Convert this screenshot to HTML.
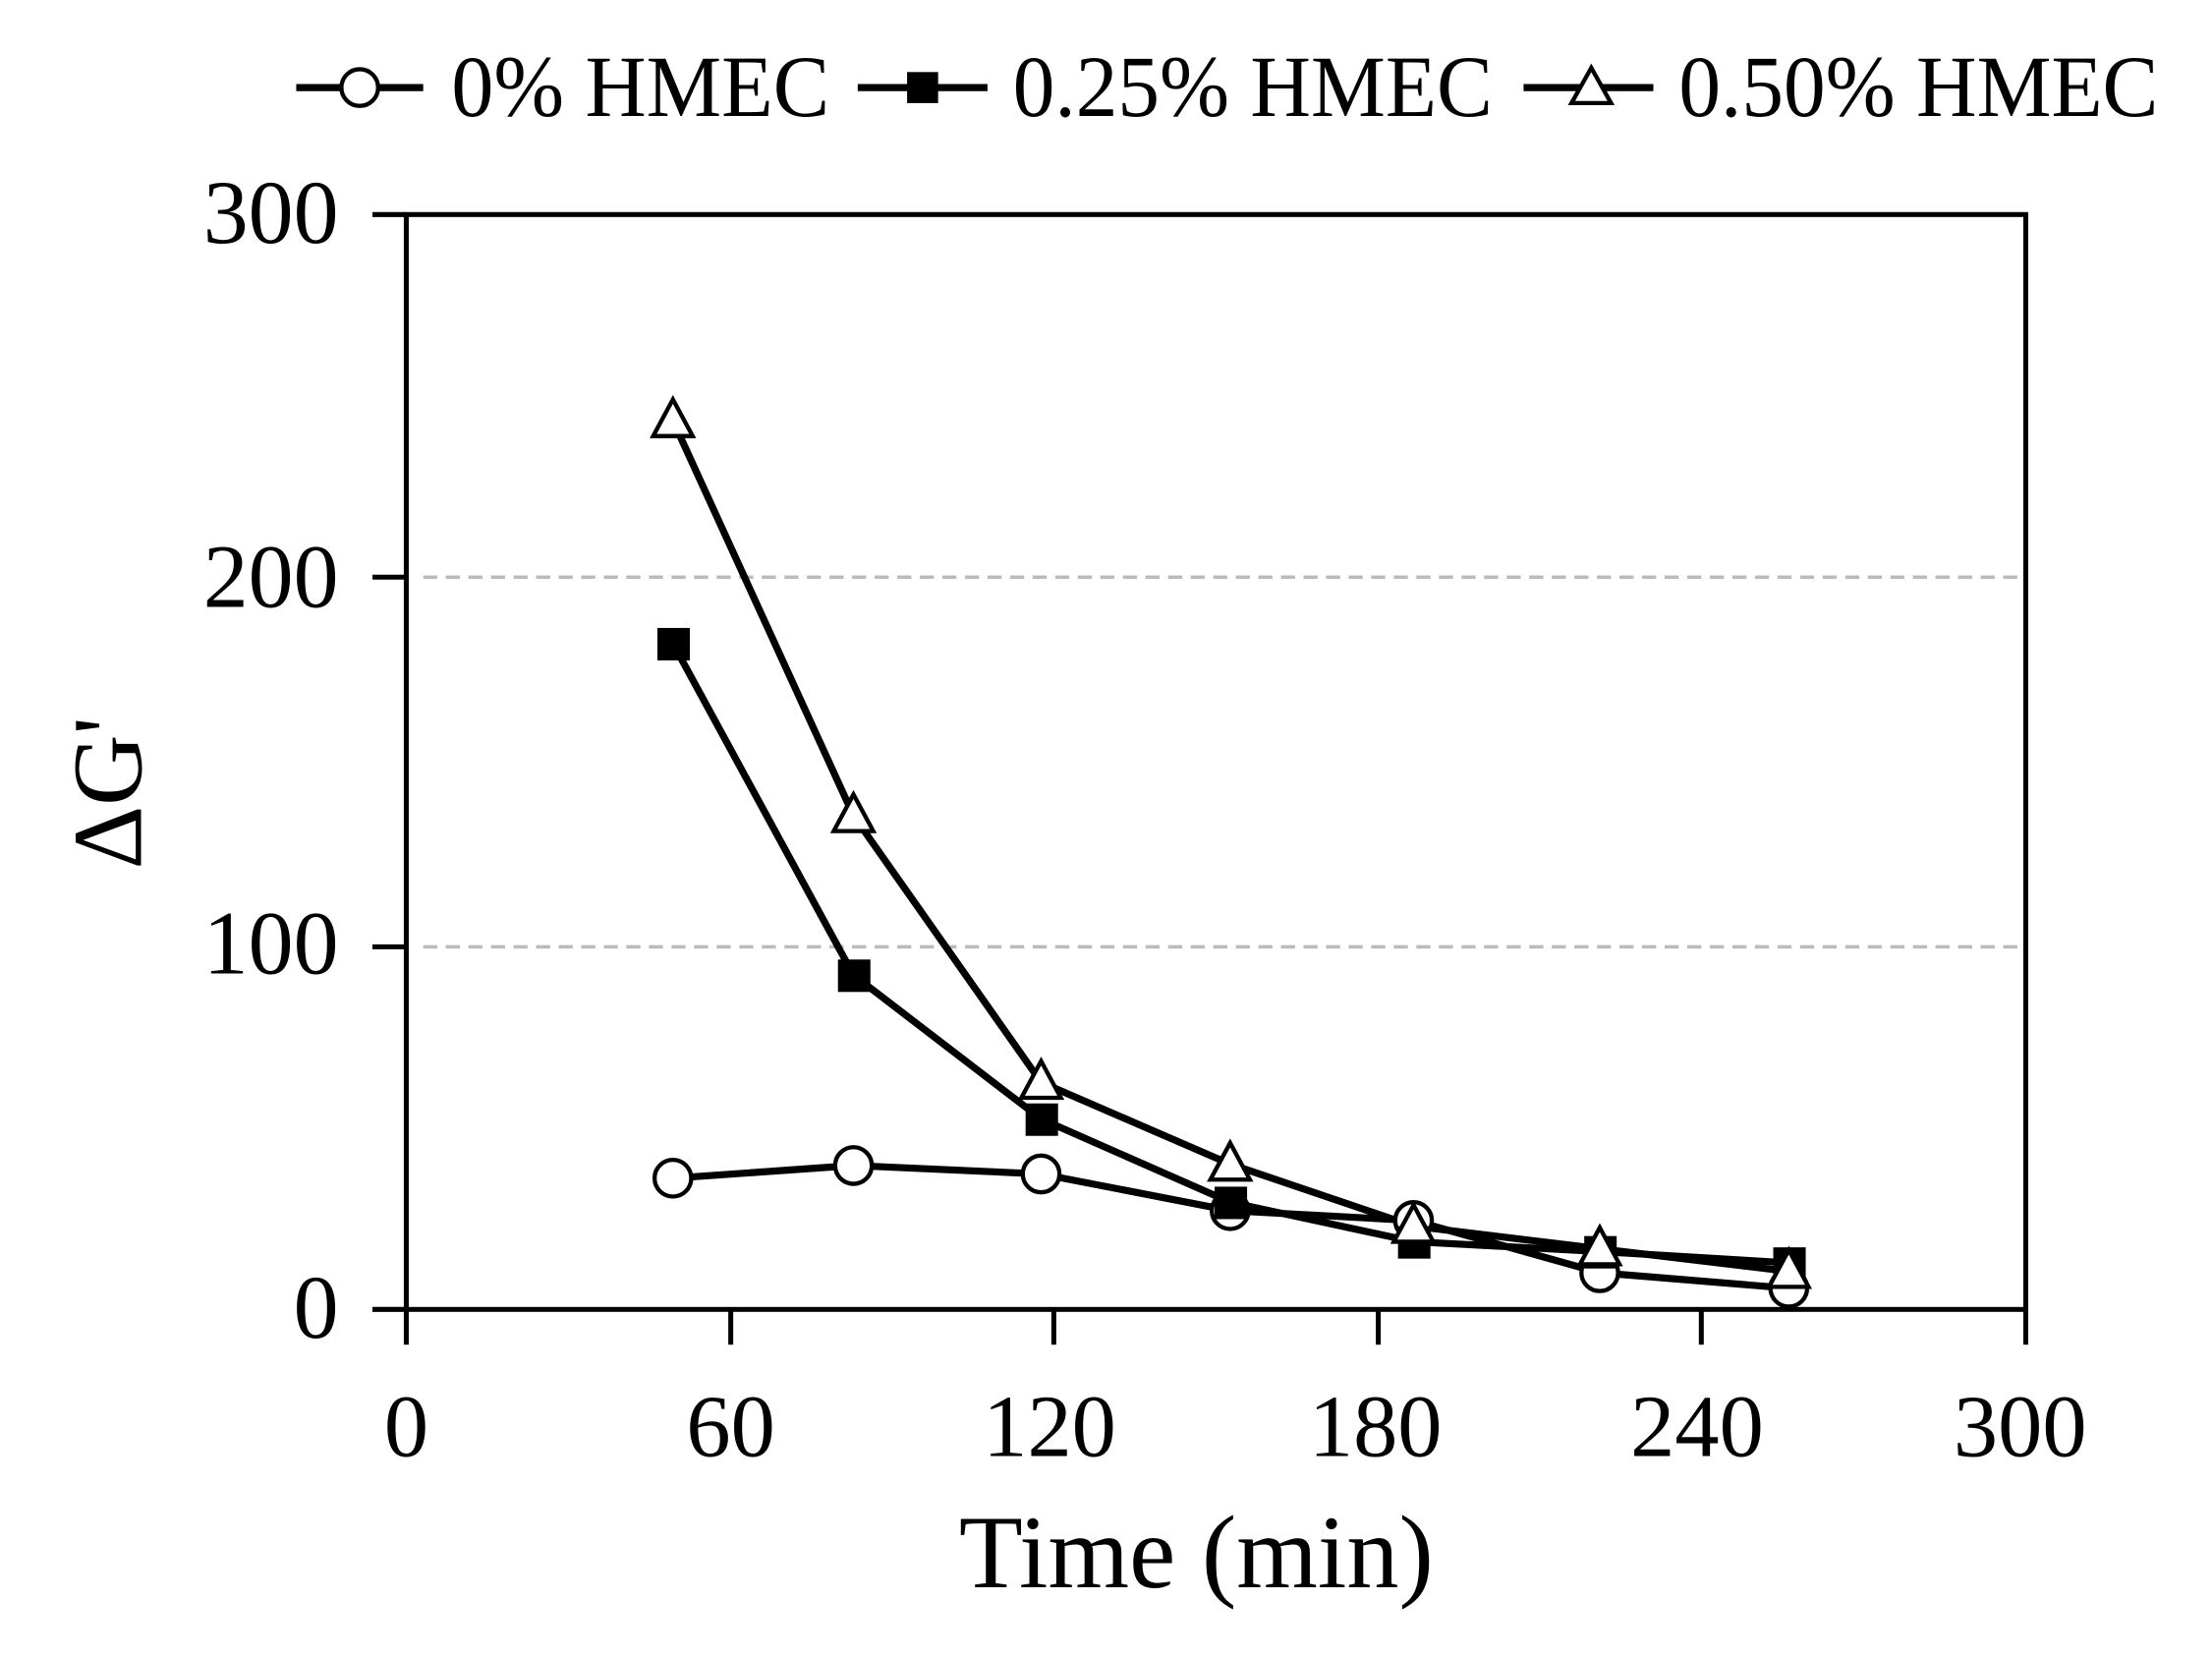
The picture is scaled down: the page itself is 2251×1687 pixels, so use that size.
<!DOCTYPE html>
<html><head><meta charset="utf-8"><style>html,body{margin:0;padding:0;background:#fff}svg{display:block}</style></head>
<body>
<svg width="2251" height="1687" viewBox="0 0 1568 1175" xmlns="http://www.w3.org/2000/svg" font-family="'Liberation Serif', serif">
<rect width="1568" height="1175" fill="#fff"/>
<line x1="300" y1="409" x2="1436" y2="409" stroke="#bbb" stroke-width="2.5" stroke-dasharray="10,6"/>
<line x1="300" y1="671" x2="1436" y2="671" stroke="#bbb" stroke-width="2.5" stroke-dasharray="10,6"/>
<g stroke="#000" stroke-width="3.5" fill="none">
<rect x="288" y="152" width="1148" height="776"/>
<line x1="264" y1="152" x2="288" y2="152"/>
<line x1="264" y1="409" x2="288" y2="409"/>
<line x1="264" y1="671" x2="288" y2="671"/>
<line x1="264" y1="928" x2="288" y2="928"/>
<line x1="288" y1="928" x2="288" y2="953"/>
<line x1="518" y1="928" x2="518" y2="953"/>
<line x1="747" y1="928" x2="747" y2="953"/>
<line x1="977" y1="928" x2="977" y2="953"/>
<line x1="1206" y1="928" x2="1206" y2="953"/>
<line x1="1436" y1="928" x2="1436" y2="953"/>
</g>
<g font-size="64" fill="#000" text-anchor="end">
<text x="240" y="172">300</text>
<text x="240" y="430">200</text>
<text x="240" y="690">100</text>
<text x="240" y="948">0</text>
</g>
<g font-size="63" fill="#000" text-anchor="middle">
<text x="288" y="1032">0</text>
<text x="518" y="1032">60</text>
<text x="744" y="1032">120</text>
<text x="975" y="1032">180</text>
<text x="1203" y="1032">240</text>
<text x="1432" y="1032">300</text>
</g>
<text x="848" y="1125" font-size="74" text-anchor="middle">Time (min)</text>
<text transform="translate(100,562) rotate(-90)" font-size="70" text-anchor="middle">ΔG'</text>
<g fill="none" stroke="#000" stroke-width="5" stroke-linejoin="round">
<polyline points="477,835 605,826 738,832 872,858 1002,865 1134,902 1268,913"/>
<polyline points="477,456 605,691 738,793 872,852 1002,880 1134,887 1268,895"/>
<polyline points="477,298 605,578 738,767 872,825 1002,869 1134,885 1268,901"/>
</g>
<g fill="#fff" stroke="#000" stroke-width="3">
<circle cx="477" cy="835" r="13"/><circle cx="605" cy="826" r="13"/><circle cx="738" cy="832" r="13"/><circle cx="872" cy="858" r="13"/><circle cx="1002" cy="865" r="13"/><circle cx="1134" cy="902" r="13"/><circle cx="1268" cy="913" r="13"/>
</g>
<g fill="#000">
<rect x="466" y="445" width="23" height="23"/><rect x="594" y="680" width="23" height="23"/><rect x="727" y="782" width="23" height="23"/><rect x="861" y="841" width="23" height="23"/><rect x="991" y="869" width="23" height="23"/><rect x="1123" y="876" width="23" height="23"/><rect x="1257" y="884" width="23" height="23"/>
</g>
<g fill="#fff" stroke="#000" stroke-width="3">
<polygon points="477,283 463,309 491,309"/><polygon points="605,563 591,589 619,589"/><polygon points="738,752 724,778 752,778"/><polygon points="872,810 858,836 886,836"/><polygon points="1002,854 988,880 1016,880"/><polygon points="1134,870 1120,896 1148,896"/><polygon points="1268,886 1254,912 1282,912"/>
</g>
<g stroke="#000" stroke-width="5">
<line x1="210" y1="62" x2="300" y2="62"/>
<line x1="608" y1="62" x2="700" y2="62"/>
<line x1="1080" y1="62" x2="1172" y2="62"/>
</g>
<circle cx="255" cy="62" r="13" fill="#fff" stroke="#000" stroke-width="3"/>
<rect x="643" y="51" width="22" height="22" fill="#000"/>
<polygon points="1128,48 1114,73 1142,73" fill="#fff" stroke="#000" stroke-width="3"/>
<g font-size="62" fill="#000">
<text x="320" y="82" textLength="268" lengthAdjust="spacingAndGlyphs">0% HMEC</text>
<text x="718" y="82" textLength="340" lengthAdjust="spacingAndGlyphs">0.25% HMEC</text>
<text x="1190" y="82" textLength="340" lengthAdjust="spacingAndGlyphs">0.50% HMEC</text>
</g>
</svg>
</body></html>
